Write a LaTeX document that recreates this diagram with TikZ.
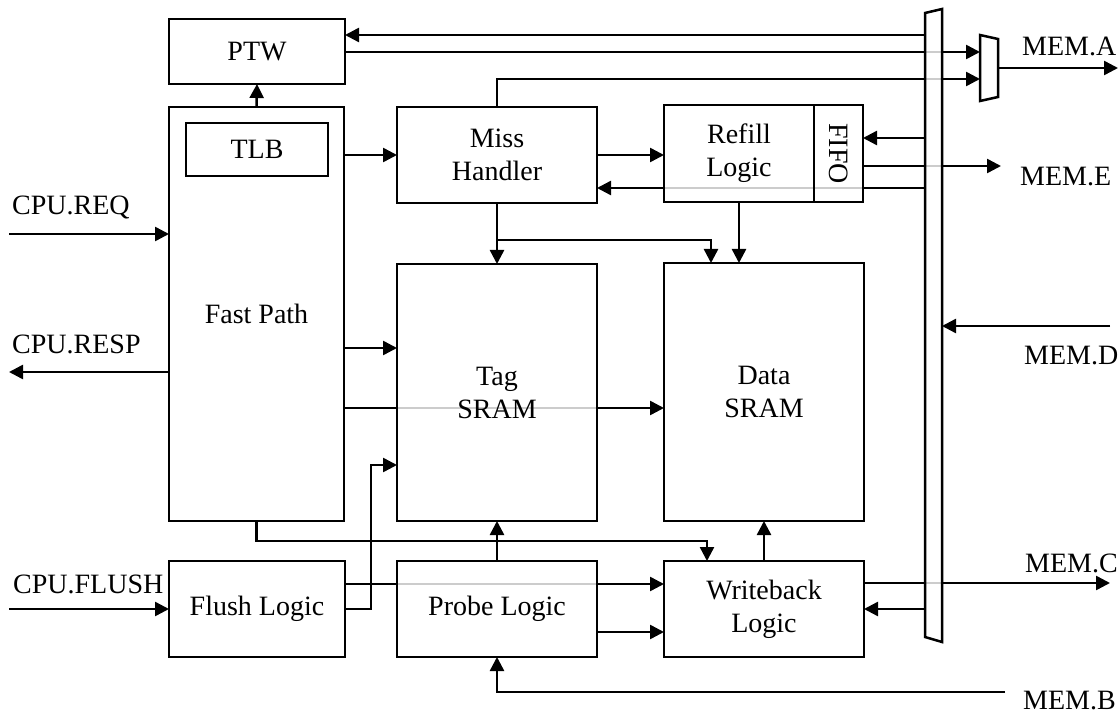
\documentclass[tikz,border=0pt]{standalone}
\usepackage{fontspec}
\setmainfont{Liberation Serif}
\usetikzlibrary{arrows.meta,calc,backgrounds}

\begin{document}
\begin{tikzpicture}[x=1pt,y=-1pt,
  font=\fontsize{28}{33}\selectfont,
  wire/.style={line width=2.5pt},
  blk/.style={draw, wire, fill=white, fill opacity=0.8, text opacity=1,
              inner sep=0pt, outer sep=0pt, align=center},
  ghost/.style={draw=none, inner sep=0pt, outer sep=0pt},
  arr/.style={wire, -{Triangle[length=14pt,width=14pt]}},
  lbl/.style={inner sep=0pt, anchor=base west},
  ]
\useasboundingbox (0,0) rectangle (1120,714);

% ---- functional blocks ----
\node[blk, minimum width=176pt, minimum height=65pt]  (ptw)    at (257,51.5)  {PTW};
\node[blk, minimum width=175pt, minimum height=414pt] (fast)   at (256.5,314) {Fast Path};
\node[blk, minimum width=142pt, minimum height=53pt]  (tlb)    at (257,149.5) {TLB};
\node[blk, minimum width=200pt, minimum height=96pt]  (miss)   at (497,155)   {Miss\\Handler};
\node[blk, minimum width=150pt, minimum height=97pt]  (refill) at (739,153.5) {Refill\\Logic};
\node[blk, minimum width=49pt,  minimum height=97pt]  (fifo)   at (838.5,153.5) {};
\node[rotate=-90, inner sep=0pt] (fifotxt) at (fifo.center) {FIFO};
\node[blk, minimum width=200pt, minimum height=257pt] (tag)    at (497,392.5) {Tag\\SRAM};
\node[blk, minimum width=200pt, minimum height=258pt] (data)   at (764,392)   {Data\\SRAM};
\node[blk, minimum width=176pt, minimum height=96pt]  (flush)  at (257,609)   {Flush Logic};
\node[blk, minimum width=200pt, minimum height=96pt]  (probe)  at (497,609)   {Probe Logic};
\node[blk, minimum width=200pt, minimum height=96pt]  (wb)     at (764,609)   {Writeback\\Logic};

% ---- memory bus and output multiplexer ----
\node[ghost, minimum width=17pt, minimum height=633pt] (bus) at (933.5,325.5) {};
\filldraw[wire, fill=white, fill opacity=0.8]
  ($(bus.north west)+(0,4)$) -- (bus.north east) -- (bus.south east)
  -- ($(bus.south west)+(0,-5)$) -- cycle;
\node[ghost, minimum width=18pt, minimum height=66pt] (mux) at (989,68) {};
\filldraw[wire, fill=white]
  (mux.north west) -- ($(mux.north east)+(0,4)$) -- ($(mux.south east)+(0,-4)$)
  -- (mux.south west) -- cycle;

% ---- port labels ----
\node[lbl] (lreq)   at (12,215)   {CPU.REQ};
\node[lbl] (lresp)  at (12,353)   {CPU.RESP};
\node[lbl] (lflush) at (13,593)   {CPU.FLUSH};
\node[lbl] (lmema)  at (1022,56)  {MEM.A};
\node[lbl] (lmeme)  at (1020,186) {MEM.E};
\node[lbl] (lmemd)  at (1024,364) {MEM.D};
\node[lbl] (lmemc)  at (1025,572) {MEM.C};
\node[lbl] (lmemb)  at (1023,709) {MEM.B};

% ---- free ends of the port wires ----
\coordinate (preq)   at (9,234);
\coordinate (presp)  at (9,372);
\coordinate (pflush) at (9,609);
\coordinate (pmema)  at (1118,68);
\coordinate (pmeme)  at (1001,166);
\coordinate (pmemd)  at (1110,326);
\coordinate (pmemc)  at (1110,583);
\coordinate (pmemb)  at (1005,692);

% ---- wires, kept behind the blocks ----
\begin{pgfonlayer}{background}
\fill[white] (0,0) rectangle (1120,714);
\draw[arr] (bus.west |- 0,35) -- (ptw.east |- 0,35);
\draw[arr] (ptw.east |- 0,52) -- (mux.west |- 0,52);
\draw[arr] (miss.north) -- (miss.north |- 0,79) -- (mux.west |- 0,79);
\draw[arr] (mux.east) -- (pmema);
\draw[arr] (fast.north) -- (ptw.south);
\draw[arr] (fast.east |- 0,155) -- (miss.west |- 0,155);
\draw[arr] (miss.east |- 0,155) -- (refill.west |- 0,155);
\draw[arr] (bus.west |- 0,188) -- (miss.east |- 0,188);
\draw[arr] (bus.west |- 0,138) -- (fifo.east |- 0,138);
\draw[arr] (fifo.east |- 0,166) -- (pmeme);
\draw[arr] (miss.south) -- (tag.north);
\draw[arr] (miss.south |- 0,240) -- (711,240) -- (data.north -| 711,0);
\draw[arr] (refill.south) -- (refill.south |- data.north);
\draw[arr] (preq) -- (fast.west |- preq);
\draw[arr] (fast.west |- presp) -- (presp);
\draw[arr] (pflush) -- (flush.west |- pflush);
\draw[arr] (fast.east |- 0,348) -- (tag.west |- 0,348);
\draw[arr] (fast.east |- 0,408) -- (data.west |- 0,408);
\draw[arr] (flush.east) -- (371,609) -- (371,465) -- (tag.west |- 0,465);
\draw[arr] (fast.south) -- (fast.south |- 0,541) -- (707,541) -- (wb.north -| 707,0);
\draw[arr] (flush.east |- 0,584) -- (wb.west |- 0,584);
\draw[arr] (probe.north) -- (tag.south);
\draw[arr] (probe.east |- 0,632) -- (wb.west |- 0,632);
\draw[arr] (wb.north) -- (data.south);
\draw[arr] (wb.east |- 0,583) -- (pmemc);
\draw[arr] (bus.west |- 0,609) -- (wb.east |- 0,609);
\draw[arr] (pmemb) -- (probe.south |- pmemb) -- (probe.south);
\draw[arr] (pmemd) -- (bus.east |- pmemd);
\end{pgfonlayer}
\end{tikzpicture}
\end{document}
